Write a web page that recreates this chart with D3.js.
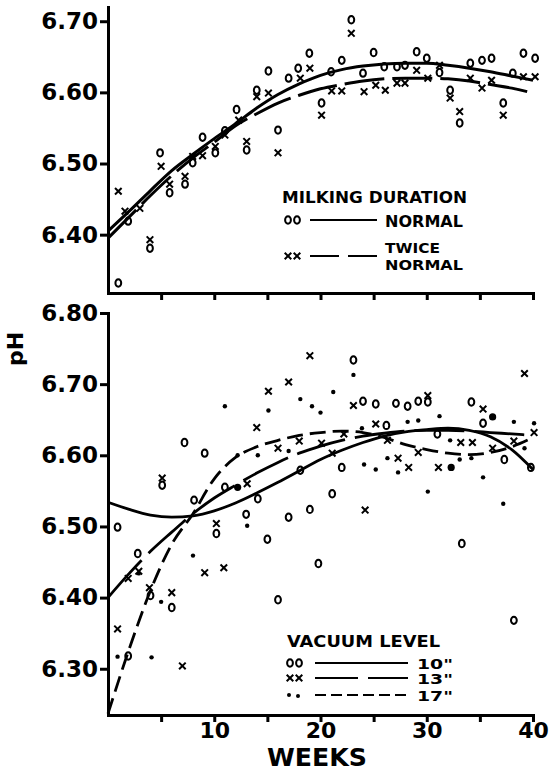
<!DOCTYPE html>
<html>
<head>
<meta charset="utf-8">
<script src="https://cdnjs.cloudflare.com/ajax/libs/d3/7.8.5/d3.min.js"></script>
<style>
    body { margin: 0; background: #fff; }
    svg { display: block; font-family: "DejaVu Sans", sans-serif; font-weight: bold; }
    .axis path, .axis line { stroke: #000; stroke-width: 3; }
    .axis text { fill: #000; font-family: "DejaVu Sans", sans-serif; font-weight: bold; }
</style>
</head>
<body>
<div id="chart"></div>
<script>
(function() {

    ///////////////////////// DATA //////////////////////////

    // weeks at which the fitted curves are sampled
    var fitWeeks = [0, 2, 4, 6, 8, 10, 12, 14, 16, 18, 20, 22, 24, 26, 28, 30, 32, 34, 36, 38, 40];

    // top panel - milking duration, [week, pH]
    var normalPoints = [
        [0.97, 6.332], [1.9, 6.419], [3.95, 6.381], [4.9, 6.515], [5.8, 6.459], [7.25, 6.471],
        [7.97, 6.501], [8.9, 6.537], [10.1, 6.515], [11.0, 6.546], [12.1, 6.576], [13.05, 6.519],
        [14.0, 6.603], [15.1, 6.630], [16.0, 6.547], [17.0, 6.620], [17.9, 6.634], [18.95, 6.655],
        [20.1, 6.585], [21.0, 6.629], [22.0, 6.645], [22.9, 6.702], [24.0, 6.627], [25.0, 6.656],
        [26.0, 6.636], [27.2, 6.636], [27.95, 6.638], [29.05, 6.657], [30.0, 6.648], [31.2, 6.628],
        [32.2, 6.603], [33.1, 6.557], [34.1, 6.641], [35.2, 6.645], [36.1, 6.648], [37.2, 6.585],
        [38.1, 6.627], [39.1, 6.655], [40.2, 6.648]
    ];
    var twicePoints = [
        [0.97, 6.461], [1.6, 6.433], [3.0, 6.437], [3.95, 6.393], [5.0, 6.496], [5.8, 6.471],
        [7.25, 6.482], [7.97, 6.510], [8.9, 6.511], [10.1, 6.524], [11.0, 6.540], [12.3, 6.561],
        [13.05, 6.531], [14.0, 6.594], [15.1, 6.599], [16.0, 6.515], [18.1, 6.620], [19.0, 6.634],
        [20.1, 6.568], [21.05, 6.602], [22.0, 6.602], [22.9, 6.683], [24.1, 6.601], [25.2, 6.610],
        [26.1, 6.603], [27.2, 6.613], [27.95, 6.613], [29.05, 6.631], [30.1, 6.620], [31.2, 6.638],
        [32.2, 6.592], [33.1, 6.573], [34.1, 6.620], [35.2, 6.606], [36.1, 6.617], [37.2, 6.568],
        [39.1, 6.622], [40.2, 6.622]
    ];
    var normalFit = [6.405, 6.433, 6.462, 6.490, 6.513, 6.535, 6.556, 6.578, 6.597, 6.612, 6.624,
                     6.632, 6.637, 6.640, 6.641, 6.641, 6.638, 6.634, 6.629, 6.623, 6.617];
    var twiceFit = [6.395, 6.425, 6.455, 6.483, 6.508, 6.530, 6.553, 6.570, 6.585, 6.596, 6.605,
                    6.611, 6.616, 6.619, 6.620, 6.620, 6.619, 6.616, 6.611, 6.606, 6.599];
    var topTicks = [6.40, 6.50, 6.60, 6.70];

    // bottom panel - vacuum level, [week, pH]
    var vac10Points = [
        [0.9, 6.499], [1.9, 6.318], [2.8, 6.462], [4.0, 6.403], [5.1, 6.558], [6.0, 6.386],
        [7.2, 6.618], [8.1, 6.537], [9.1, 6.603], [10.2, 6.490], [11.0, 6.555], [13.0, 6.517],
        [14.1, 6.539], [15.0, 6.482], [16.0, 6.397], [17.0, 6.513], [18.1, 6.579], [19.0, 6.524],
        [19.8, 6.448], [21.1, 6.546], [22.0, 6.583], [23.1, 6.734], [24.0, 6.676], [25.2, 6.672],
        [26.2, 6.642], [27.1, 6.673], [28.2, 6.669], [29.2, 6.676], [30.1, 6.675], [31.0, 6.630],
        [33.3, 6.476], [34.2, 6.675], [35.3, 6.645], [37.3, 6.594], [38.2, 6.368], [39.8, 6.583]
    ];
    var vac13Points = [
        [0.9, 6.356], [1.9, 6.427], [2.9, 6.437], [3.9, 6.414], [5.1, 6.568], [6.0, 6.407],
        [7.0, 6.304], [9.1, 6.435], [10.2, 6.504], [10.9, 6.442], [13.1, 6.560], [14.0, 6.639],
        [15.1, 6.690], [16.0, 6.610], [17.0, 6.703], [18.0, 6.620], [19.0, 6.740], [20.1, 6.617],
        [21.1, 6.603], [22.2, 6.630], [23.1, 6.670], [24.2, 6.523], [25.2, 6.644], [26.3, 6.621],
        [27.3, 6.596], [28.3, 6.583], [29.2, 6.604], [30.1, 6.684], [31.1, 6.583], [33.2, 6.618],
        [34.3, 6.618], [35.3, 6.665], [36.2, 6.610], [38.2, 6.620], [39.2, 6.715], [40.1, 6.632]
    ];
    var vac17Points = [
        [0.9, 6.317], [2.9, 6.434], [4.1, 6.316], [5.0, 6.394], [8.0, 6.459], [11.0, 6.669],
        [12.2, 6.600], [13.1, 6.501], [14.1, 6.600], [15.1, 6.663], [17.0, 6.606], [18.1, 6.679],
        [19.2, 6.669], [20.0, 6.660], [21.2, 6.689], [23.1, 6.713], [23.9, 6.638], [24.1, 6.587],
        [25.2, 6.580], [26.3, 6.596], [27.3, 6.576], [28.2, 6.647], [29.2, 6.649], [30.1, 6.549],
        [31.2, 6.655], [32.2, 6.621], [33.1, 6.594], [34.2, 6.596], [35.3, 6.569], [37.2, 6.532],
        [38.2, 6.647], [39.2, 6.610], [40.1, 6.645]
    ];
    // the few 17" points printed as heavy blots
    var vac17Heavy = [[12.2, 6.555], [32.3, 6.583], [36.2, 6.654]];

    var vac10Fit = [6.534, 6.524, 6.516, 6.513, 6.515, 6.522, 6.533, 6.547, 6.562, 6.578, 6.594,
                    6.607, 6.618, 6.627, 6.633, 6.636, 6.638, 6.635, 6.626, 6.608, 6.580];
    var vac13Fit = [6.400, 6.434, 6.465, 6.492, 6.518, 6.540, 6.558, 6.575, 6.590, 6.603, 6.613,
                    6.621, 6.627, 6.631, 6.634, 6.635, 6.635, 6.634, 6.632, 6.630, 6.628];
    var vac17Fit = [6.237, 6.328, 6.410, 6.475, 6.518, 6.567, 6.597, 6.612, 6.621, 6.628, 6.632,
                    6.634, 6.632, 6.625, 6.615, 6.608, 6.603, 6.601, 6.604, 6.612, 6.625];
    var bottomTicks = [6.30, 6.40, 6.50, 6.60, 6.70, 6.80];

    var weekTicks = [5, 10, 15, 20, 25, 30, 35, 40];
    var weekLabels = [10, 20, 30, 40];

    //////////////////////////////////////////////////////////////////////////////////

    var width = 550, height = 771;

    var xScale = d3.scaleLinear().domain([0, 40]).range([108, 533]);
    var yTop = d3.scaleLinear().domain([6.318, 6.72]).range([293, 7]);
    var yBottom = d3.scaleLinear().domain([6.235, 6.80]).range([715, 313]);

    var svg = d3.select("#chart")
        .append("svg")
        .attr("width", width)
        .attr("height", height);

    function drawPanel(yScale, ticks, showLabels) {
        var g = svg.append("g");

        g.append("g")
            .attr("class", "axis axis--y")
            .attr("transform", "translate(" + xScale.range()[0] + ",0)")
            .call(d3.axisLeft(yScale).tickValues(ticks).tickFormat(d3.format(".2f"))
                .tickSize(8).tickSizeOuter(0).tickPadding(2))
            .selectAll("text")
            .style("font-size", "23px");

        var xAxis = g.append("g")
            .attr("class", "axis axis--x")
            .attr("transform", "translate(0," + yScale.range()[0] + ")")
            .call(d3.axisBottom(xScale).tickValues(weekTicks)
                .tickFormat(function(d) { return showLabels && weekLabels.indexOf(d) > -1 ? d : ""; })
                .tickSize(7).tickSizeOuter(0).tickPadding(0));
        xAxis.selectAll("text").style("font-size", "22px");

        g.selectAll(".domain").attr("stroke-linecap", "square");
        return g;
    }

    function drawCurve(g, yScale, values, dash, widthPx) {
        var line = d3.line()
            .x(function(d) { return xScale(d[0]); })
            .y(function(d) { return yScale(d[1]); })
            .curve(d3.curveMonotoneX);

        g.append("path")
            .datum(d3.zip(fitWeeks, values))
            .attr("fill", "none")
            .attr("stroke", "#000")
            .attr("stroke-width", widthPx)
            .attr("stroke-dasharray", dash)
            .attr("d", line);
    }

    function drawO(g, x, y) {
        g.append("ellipse")
            .attr("cx", x).attr("cy", y)
            .attr("rx", 2.9).attr("ry", 3.7)
            .attr("fill", "none")
            .attr("stroke", "#000")
            .attr("stroke-width", 2);
    }

    function drawX(g, x, y) {
        var s = 3.3;
        g.append("path")
            .attr("d", "M" + (x - s) + "," + (y - s) + "L" + (x + s) + "," + (y + s) +
                       "M" + (x + s) + "," + (y - s) + "L" + (x - s) + "," + (y + s))
            .attr("stroke", "#000")
            .attr("stroke-width", 2);
    }

    function drawDot(g, x, y, r) {
        g.append("circle")
            .attr("cx", x).attr("cy", y)
            .attr("r", r)
            .attr("fill", "#000");
    }

    function drawPoints(g, yScale, data, kind) {
        data.forEach(function(d) {
            var x = xScale(d[0]), y = yScale(d[1]);
            if (kind === "o") drawO(g, x, y);
            else if (kind === "x") drawX(g, x, y);
            else drawDot(g, x, y, kind === "heavy" ? 3.6 : 2.2);
        });
    }

    function legendText(g, x, y, txt, size, len) {
        var t = g.append("text")
            .attr("x", x)
            .attr("y", y)
            .style("font-size", size + "px")
            .text(txt);
        if (len) t.attr("textLength", len).attr("lengthAdjust", "spacingAndGlyphs");
        return t;
    }

    function legendLine(g, x0, x1, y, dash) {
        g.append("line")
            .attr("x1", x0).attr("x2", x1)
            .attr("y1", y).attr("y2", y)
            .attr("stroke", "#000")
            .attr("stroke-width", 2)
            .attr("stroke-dasharray", dash);
    }

    ///////////////////////// TOP PANEL //////////////////////////////

    var top = drawPanel(yTop, topTicks, false);
    drawCurve(top, yTop, normalFit, null, 3);
    drawCurve(top, yTop, twiceFit, "40,8", 3);
    drawPoints(top, yTop, normalPoints, "o");
    drawPoints(top, yTop, twicePoints, "x");

    legendText(top, 282, 203, "MILKING  DURATION", 15, 185);
    drawO(top, 288, 220); drawO(top, 297, 220);
    legendLine(top, 310, 377, 220, null);
    legendText(top, 385, 227, "NORMAL", 15, 78);
    drawX(top, 288, 256); drawX(top, 297, 256);
    legendLine(top, 310, 377, 256, "29,9");
    legendText(top, 385, 253, "TWICE", 14, 55);
    legendText(top, 385, 270, "NORMAL", 14, 78);

    ///////////////////////// BOTTOM PANEL ///////////////////////////

    var bottom = drawPanel(yBottom, bottomTicks, true);
    drawCurve(bottom, yBottom, vac10Fit, null, 2.8);
    drawCurve(bottom, yBottom, vac13Fit, "50,10", 2.8);
    drawCurve(bottom, yBottom, vac17Fit, "16,7", 2.8);
    drawPoints(bottom, yBottom, vac10Points, "o");
    drawPoints(bottom, yBottom, vac13Points, "x");
    drawPoints(bottom, yBottom, vac17Points, "dot");
    drawPoints(bottom, yBottom, vac17Heavy, "heavy");

    legendText(bottom, 287, 647, "VACUUM  LEVEL", 16, 153);
    drawO(bottom, 290, 663); drawO(bottom, 299, 663);
    legendLine(bottom, 315, 408, 663, null);
    legendText(bottom, 417, 669, "10\"", 14, 36);
    drawX(bottom, 290, 678); drawX(bottom, 299, 678);
    legendLine(bottom, 315, 408, 678, "43,10");
    legendText(bottom, 417, 684, "13\"", 14, 36);
    drawDot(bottom, 289, 695, 2); drawDot(bottom, 298, 696, 2);
    legendLine(bottom, 315, 408, 695, "11,5");
    legendText(bottom, 417, 701, "17\"", 14, 36);

    ///////////////////////// AXIS TITLES ////////////////////////////

    svg.append("text")
        .attr("transform", "translate(23,349) rotate(-90)")
        .attr("text-anchor", "middle")
        .style("font-size", "22px")
        .text("pH");

    svg.append("text")
        .attr("x", 317)
        .attr("y", 766)
        .attr("text-anchor", "middle")
        .attr("textLength", 100)
        .attr("lengthAdjust", "spacingAndGlyphs")
        .style("font-size", "24px")
        .text("WEEKS");
})();
</script>
</body>
</html>
